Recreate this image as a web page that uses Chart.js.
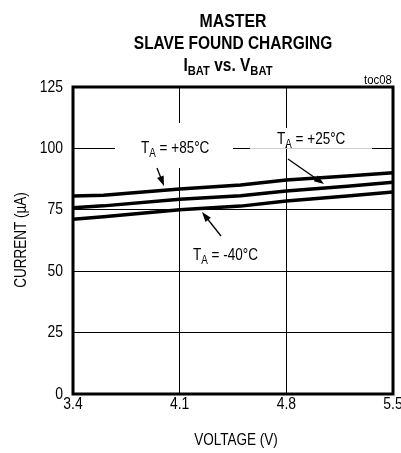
<html>
  <head>
    <style>
      body { margin: 0; overflow: hidden; background: #fff; }
    </style>
  </head>
  <body>
    <script src="https://cdn.jsdelivr.net/npm/chart.js@4"></script>
    <canvas id="myChart" width="412" height="453"></canvas>

    <script>
      // data
      const voltage = [3.4, 3.6, 4.1, 4.5, 4.8, 5.2, 5.5];
      const ta85 = [80.6, 80.9, 83.5, 85.1, 87.1, 88.8, 90.1];
      const ta25 = [75.8, 76.6, 79.3, 80.7, 82.7, 84.6, 86.2];
      const taM40 = [71.2, 72.2, 75.0, 76.5, 78.6, 80.6, 82.2];
      const xTicks = [3.4, 4.1, 4.8, 5.5];
      const yTicks = [0, 25, 50, 75, 100, 125];

      const FONT = "'Liberation Sans', Arial, sans-serif";
      const NARROW = 0.82; // squeeze Arial to look like Arial Narrow

      function pts(ys) {
        return voltage.map((v, i) => ({ x: v, y: ys[i] }));
      }

      // narrow text
      function nText(ctx, text, x, y, size, bold, align, sx) {
        sx = sx || NARROW;
        ctx.save();
        ctx.font = (bold ? 'bold ' : '') + size + 'px ' + FONT;
        ctx.textAlign = align;
        ctx.textBaseline = 'middle';
        ctx.translate(x, y);
        ctx.scale(sx, 1);
        ctx.fillText(text, 0, 0);
        ctx.restore();
      }

      // text with subscript parts: [[text, isSub], ...]
      function subText(ctx, parts, x, y, size, bold, align, sx) {
        sx = sx || NARROW;
        let fnt = p => (bold ? 'bold ' : '') + (p[1] ? Math.round(size * 0.7) : size) + 'px ' + FONT;
        let w = 0;
        parts.forEach(p => {
          ctx.font = fnt(p);
          w += ctx.measureText(p[0]).width;
        });
        ctx.save();
        ctx.translate(x, y);
        ctx.scale(sx, 1);
        let cx = align == 'center' ? -w / 2 : 0;
        ctx.textAlign = 'left';
        ctx.textBaseline = 'middle';
        parts.forEach(p => {
          ctx.font = fnt(p);
          ctx.fillText(p[0], cx, p[1] ? size * 0.32 : 0);
          cx += ctx.measureText(p[0]).width;
        });
        ctx.restore();
      }

      function arrow(ctx, x1, y1, x2, y2) {
        let a = Math.atan2(y2 - y1, x2 - x1);
        let len = 10, hw = 3.5;
        ctx.beginPath();
        ctx.moveTo(x1, y1);
        ctx.lineTo(x2 - len * Math.cos(a) * 0.8, y2 - len * Math.sin(a) * 0.8);
        ctx.lineWidth = 1.3;
        ctx.stroke();
        ctx.beginPath();
        ctx.moveTo(x2, y2);
        ctx.lineTo(x2 - len * Math.cos(a) + hw * Math.sin(a), y2 - len * Math.sin(a) - hw * Math.cos(a));
        ctx.lineTo(x2 - len * Math.cos(a) - hw * Math.sin(a), y2 - len * Math.sin(a) + hw * Math.cos(a));
        ctx.closePath();
        ctx.fill();
      }

      const decorPlugin = {
        id: 'decor',
        beforeDatasetsDraw(chart) {
          let ctx = chart.ctx;
          ctx.save();
          // label backgrounds over the grid
          ctx.fillStyle = '#fff';
          ctx.fillRect(115, 123, 118, 45);
          ctx.fillRect(272, 128, 78, 17);
          ctx.strokeStyle = '#d0d0d0';
          ctx.lineWidth = 1.2;
          ctx.beginPath();
          ctx.moveTo(250, 148.5);
          ctx.lineTo(372, 148.5);
          ctx.stroke();
          ctx.restore();
        },
        afterDraw(chart) {
          let ctx = chart.ctx;
          let a = chart.chartArea;
          let xs = chart.scales.x, ys = chart.scales.y;
          ctx.save();
          // frame
          ctx.strokeStyle = '#000';
          ctx.lineWidth = 3;
          ctx.strokeRect(a.left, a.top, a.right - a.left, a.bottom - a.top);

          ctx.fillStyle = '#000';
          // tick labels, placed by the scales
          xTicks.forEach(v => nText(ctx, v.toFixed(1), xs.getPixelForValue(v), 404, 17, false, 'center'));
          yTicks.forEach(v => nText(ctx, String(v), 63, ys.getPixelForValue(v), 17, false, 'right'));

          // axis titles
          nText(ctx, 'VOLTAGE (V)', 236, 440, 16.5, false, 'center');
          ctx.save();
          ctx.translate(21, 240);
          ctx.rotate(-Math.PI / 2);
          nText(ctx, 'CURRENT (µA)', 0, 0, 16.5, false, 'center');
          ctx.restore();

          // title
          nText(ctx, 'MASTER', 233, 22, 18, true, 'center', 0.88);
          nText(ctx, 'SLAVE FOUND CHARGING', 233, 44, 18, true, 'center', 0.86);
          subText(ctx, [['I', false], ['BAT', true], [' vs. V', false], ['BAT', true]], 228, 66, 18, true, 'center', 0.86);
          nText(ctx, 'toc08', 378, 81, 12, false, 'center', 0.95);

          // curve labels
          ctx.strokeStyle = '#000';
          subText(ctx, [['T', false], ['A', true], [' = +85°C', false]], 141, 148, 16.5, false, 'left');
          subText(ctx, [['T', false], ['A', true], [' = +25°C', false]], 277, 139, 16.5, false, 'left');
          subText(ctx, [['T', false], ['A', true], [' = -40°C', false]], 193, 255, 16.5, false, 'left');
          arrow(ctx, 157, 168, 164, 186);
          arrow(ctx, 288, 159, 324, 184);
          arrow(ctx, 221, 236, 202, 212);
          ctx.restore();
        }
      };

      function initChart() {
        let ctx = document.getElementById('myChart').getContext('2d');
        let mk = (label, ys) => ({
          label: label,
          data: pts(ys),
          borderColor: '#000',
          borderWidth: 3.5,
          pointRadius: 0,
          tension: 0,
          fill: false
        });
        new Chart(ctx, {
          type: 'line',
          data: {
            datasets: [
              mk('TA = +85°C', ta85),
              mk('TA = +25°C', ta25),
              mk('TA = -40°C', taM40)
            ]
          },
          options: {
            responsive: false,
            animation: false,
            layout: { padding: { top: 87, right: 19, left: 0, bottom: 0 } },
            plugins: { legend: { display: false }, tooltip: { enabled: false } },
            scales: {
              x: {
                type: 'linear',
                min: 3.4,
                max: 5.5,
                afterBuildTicks: s => { s.ticks = xTicks.map(v => ({ value: v })); },
                afterFit: s => { s.height = 59; },
                grid: { color: '#000', lineWidth: 1, drawTicks: false },
                border: { display: false },
                ticks: { display: false }
              },
              y: {
                min: 0,
                max: 125,
                afterBuildTicks: s => { s.ticks = yTicks.map(v => ({ value: v })); },
                afterFit: s => { s.width = 73; },
                grid: { color: '#000', lineWidth: 1, drawTicks: false },
                border: { display: false },
                ticks: { display: false }
              }
            }
          },
          plugins: [decorPlugin]
        });
      }

      initChart();
    </script>
  </body>
</html>
